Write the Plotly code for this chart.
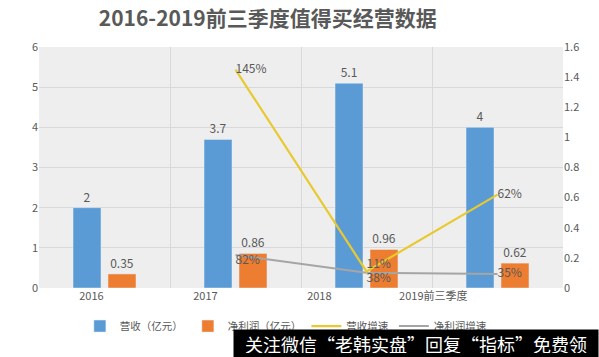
import plotly.graph_objects as go

categories = ['2016', '2017', '2018', '2019前三季度']
revenue = [2, 3.7, 5.1, 4]
profit = [0.35, 0.86, 0.96, 0.62]
rev_growth = [None, 1.45, 0.11, 0.62]      # right axis
profit_growth = [None, 0.82, 0.38, 0.35]   # left axis
left_ticks = [0, 1, 2, 3, 4, 5, 6]
right_ticks = [0, 0.2, 0.4, 0.6, 0.8, 1, 1.2, 1.4, 1.6]

idx = list(range(len(categories)))
FONT = "Noto Sans CJK SC"
TXT = "#595959"

fig = go.Figure()
fig.add_bar(x=idx, y=revenue, name='营收（亿元）', marker_color='#5B9BD5',
            text=[f'{v:g}' for v in revenue], textposition='outside',
            textfont=dict(color=TXT, size=12), cliponaxis=False)
fig.add_bar(x=idx, y=profit, name='净利润（亿元）', marker_color='#ED7D31',
            text=[f'{v:g}' for v in profit], textposition='outside',
            textfont=dict(color=TXT, size=12), cliponaxis=False)
fig.add_scatter(x=idx, y=rev_growth, name='营收增速', mode='lines+text',
                line=dict(color='#E8C930', width=2.2), yaxis='y2',
                text=[None if v is None else f'{v*100:.0f}%' for v in rev_growth],
                textposition=['middle right', 'middle right', 'top right', 'middle right'],
                textfont=dict(color=TXT, size=12), cliponaxis=False)
fig.add_scatter(x=idx, y=profit_growth, name='净利润增速', mode='lines+text',
                line=dict(color='#A5A5A5', width=2),
                text=[None if v is None else f'{v*100:.0f}%' for v in profit_growth],
                textposition=['bottom right', 'bottom right', 'bottom right', 'middle right'],
                textfont=dict(color=TXT, size=12), cliponaxis=False)

tick_pos = [i * 0.87 - 0.1 for i in idx]

fig.update_layout(
    width=599, height=357,
    margin=dict(l=39, r=36, t=47, b=69),
    paper_bgcolor='white', plot_bgcolor='#EEEEEE',
    font=dict(family=FONT, color=TXT, size=11),
    barmode='group', bargap=0.466, bargroupgap=0.2,
    title=dict(text='<b>2016-2019前三季度值得买经营数据</b>', x=0.447, xanchor='center',
               y=0.947, yanchor='middle', font=dict(size=21, color=TXT, family=FONT)),
    xaxis=dict(range=[-0.5, len(categories) - 0.5], tickmode='array', tickvals=tick_pos,
               ticktext=categories, showgrid=False, zeroline=False, ticks='',
               automargin=False, tickfont=dict(size=11, color=TXT),
               minor=dict(tickmode='array', tickvals=[i - 0.5 for i in range(len(categories) + 1)],
                          showgrid=True, gridcolor='#D9D9D9', gridwidth=1, ticks='')),
    yaxis=dict(range=[0, 6], tickvals=left_ticks, showgrid=True, gridcolor='#D9D9D9',
               zeroline=False, ticks='', automargin=False, tickfont=dict(size=11, color=TXT)),
    yaxis2=dict(range=[0, 1.6], tickvals=right_ticks, overlaying='y', side='right',
                showgrid=False, zeroline=False, ticks='', automargin=False,
                tickfont=dict(size=11, color=TXT)),
    legend=dict(orientation='h', x=0.078, xanchor='left', y=-0.158, yanchor='middle',
                font=dict(size=10.5, color=TXT), bgcolor='rgba(0,0,0,0)'),
    showlegend=True,
)

fig.add_annotation(xref='paper', yref='paper', x=1.0687, y=-0.230, xanchor='right', yanchor='middle',
                   text='关注微信“老韩实盘”回复“指标”免费领', showarrow=False,
                   font=dict(size=18, color='white', family=FONT), bgcolor='black',
                   borderpad=4, width=356, height=19, align='center')

fig.write_html('out.html', config={'displayModeBar': False},
               post_script="document.body.style.margin='0';document.body.style.overflow='hidden';")
